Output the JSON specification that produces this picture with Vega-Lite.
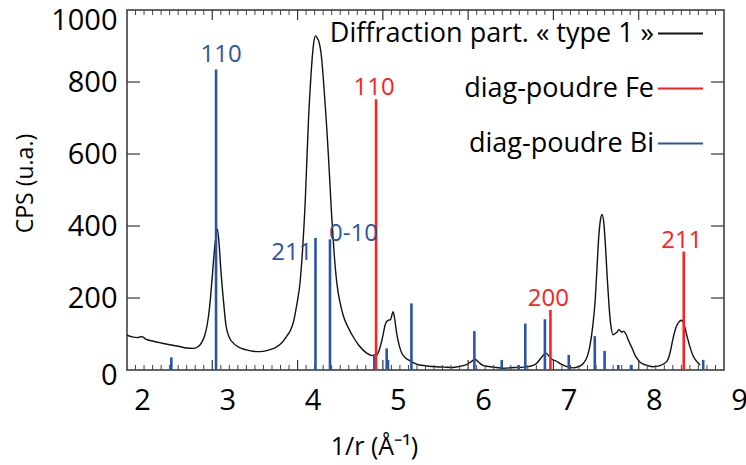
{
  "$schema": "https://vega.github.io/schema/vega-lite/v6.json",
  "width": 597,
  "height": 360,
  "autosize": "none",
  "padding": {"left": 127, "top": 10, "right": 22, "bottom": 95},
  "background": "white",
  "config": {
    "view": {"stroke": "#333333", "strokeWidth": 1.5},
    "axis": {"domain": false, "grid": false, "ticks": false, "labelFont": "Open Sans", "titleFont": "Open Sans", "labelColor": "#000000", "titleColor": "#000000", "titleFontWeight": "normal"},
    "text": {"font": "Open Sans"}
  },
  "datasets": {
    "curve": [
      {"x": 2.00, "y": 97}, {"x": 2.06, "y": 92}, {"x": 2.12, "y": 90}, {"x": 2.17, "y": 93}, {"x": 2.22, "y": 86},
      {"x": 2.31, "y": 80}, {"x": 2.40, "y": 75}, {"x": 2.50, "y": 70}, {"x": 2.60, "y": 66}, {"x": 2.70, "y": 61},
      {"x": 2.78, "y": 60}, {"x": 2.84, "y": 66}, {"x": 2.88, "y": 78}, {"x": 2.91, "y": 95}, {"x": 2.94, "y": 125},
      {"x": 2.97, "y": 178}, {"x": 3.00, "y": 260}, {"x": 3.03, "y": 345}, {"x": 3.06, "y": 392}, {"x": 3.08, "y": 350},
      {"x": 3.10, "y": 280}, {"x": 3.13, "y": 195}, {"x": 3.16, "y": 125}, {"x": 3.20, "y": 90}, {"x": 3.25, "y": 74},
      {"x": 3.32, "y": 62}, {"x": 3.40, "y": 56}, {"x": 3.48, "y": 52}, {"x": 3.56, "y": 51}, {"x": 3.64, "y": 54},
      {"x": 3.72, "y": 60}, {"x": 3.80, "y": 72}, {"x": 3.87, "y": 93}, {"x": 3.92, "y": 112}, {"x": 3.95, "y": 132},
      {"x": 3.99, "y": 180}, {"x": 4.03, "y": 245}, {"x": 4.06, "y": 340}, {"x": 4.09, "y": 470}, {"x": 4.11, "y": 590},
      {"x": 4.13, "y": 705}, {"x": 4.15, "y": 790}, {"x": 4.17, "y": 862}, {"x": 4.19, "y": 910}, {"x": 4.21, "y": 928},
      {"x": 4.23, "y": 922}, {"x": 4.25, "y": 912}, {"x": 4.28, "y": 870}, {"x": 4.30, "y": 815}, {"x": 4.32, "y": 750},
      {"x": 4.34, "y": 680}, {"x": 4.36, "y": 602}, {"x": 4.38, "y": 515}, {"x": 4.40, "y": 428}, {"x": 4.43, "y": 320},
      {"x": 4.46, "y": 242}, {"x": 4.50, "y": 185}, {"x": 4.54, "y": 148}, {"x": 4.60, "y": 115}, {"x": 4.65, "y": 93},
      {"x": 4.72, "y": 68}, {"x": 4.81, "y": 47}, {"x": 4.88, "y": 40}, {"x": 4.93, "y": 42}, {"x": 4.97, "y": 65},
      {"x": 5.00, "y": 95}, {"x": 5.03, "y": 128}, {"x": 5.06, "y": 138}, {"x": 5.09, "y": 140}, {"x": 5.12, "y": 162},
      {"x": 5.14, "y": 140}, {"x": 5.16, "y": 105}, {"x": 5.19, "y": 70}, {"x": 5.22, "y": 48}, {"x": 5.26, "y": 35},
      {"x": 5.30, "y": 28}, {"x": 5.36, "y": 20}, {"x": 5.43, "y": 14}, {"x": 5.50, "y": 12}, {"x": 5.63, "y": 9},
      {"x": 5.72, "y": 8}, {"x": 5.82, "y": 7}, {"x": 5.90, "y": 10}, {"x": 5.98, "y": 15}, {"x": 6.03, "y": 22},
      {"x": 6.08, "y": 30}, {"x": 6.13, "y": 20}, {"x": 6.18, "y": 12}, {"x": 6.30, "y": 8}, {"x": 6.41, "y": 5},
      {"x": 6.55, "y": 7}, {"x": 6.65, "y": 8}, {"x": 6.72, "y": 10}, {"x": 6.80, "y": 18}, {"x": 6.86, "y": 35},
      {"x": 6.91, "y": 47}, {"x": 6.95, "y": 38}, {"x": 6.98, "y": 30}, {"x": 7.03, "y": 25}, {"x": 7.08, "y": 18},
      {"x": 7.15, "y": 10}, {"x": 7.23, "y": 6}, {"x": 7.30, "y": 10}, {"x": 7.35, "y": 18}, {"x": 7.40, "y": 40},
      {"x": 7.43, "y": 70}, {"x": 7.46, "y": 120}, {"x": 7.49, "y": 195}, {"x": 7.51, "y": 280}, {"x": 7.53, "y": 365},
      {"x": 7.55, "y": 415}, {"x": 7.57, "y": 432}, {"x": 7.59, "y": 410}, {"x": 7.61, "y": 345}, {"x": 7.63, "y": 260},
      {"x": 7.65, "y": 185}, {"x": 7.67, "y": 130}, {"x": 7.70, "y": 98}, {"x": 7.74, "y": 104}, {"x": 7.77, "y": 112},
      {"x": 7.80, "y": 105}, {"x": 7.82, "y": 108}, {"x": 7.85, "y": 100}, {"x": 7.88, "y": 82}, {"x": 7.92, "y": 62},
      {"x": 7.96, "y": 40}, {"x": 8.01, "y": 23}, {"x": 8.08, "y": 14}, {"x": 8.17, "y": 9}, {"x": 8.25, "y": 12},
      {"x": 8.33, "y": 24}, {"x": 8.37, "y": 50}, {"x": 8.40, "y": 85}, {"x": 8.44, "y": 120}, {"x": 8.47, "y": 133},
      {"x": 8.50, "y": 138}, {"x": 8.53, "y": 128}, {"x": 8.56, "y": 100}, {"x": 8.60, "y": 65}, {"x": 8.64, "y": 38},
      {"x": 8.68, "y": 24}, {"x": 8.72, "y": 14}
    ],
    "bi": [
      {"x": 2.52, "h": 35, "label": ""},
      {"x": 3.044, "h": 835, "label": "110"},
      {"x": 4.21, "h": 367, "label": "211"},
      {"x": 4.38, "h": 363, "label": "0-10"},
      {"x": 4.90, "h": 44, "label": ""},
      {"x": 5.045, "h": 60, "label": ""},
      {"x": 5.06, "h": 28, "label": ""},
      {"x": 5.335, "h": 185, "label": ""},
      {"x": 6.073, "h": 108, "label": ""},
      {"x": 6.394, "h": 28, "label": ""},
      {"x": 6.59, "h": 14, "label": ""},
      {"x": 6.67, "h": 129, "label": ""},
      {"x": 6.90, "h": 141, "label": ""},
      {"x": 7.18, "h": 42, "label": ""},
      {"x": 7.485, "h": 94, "label": ""},
      {"x": 7.60, "h": 53, "label": ""},
      {"x": 7.76, "h": 14, "label": ""},
      {"x": 7.915, "h": 14, "label": ""},
      {"x": 8.756, "h": 28, "label": ""}
    ],
    "fe": [
      {"x": 4.92, "h": 752, "label": "110"},
      {"x": 6.965, "h": 167, "label": "200"},
      {"x": 8.528, "h": 329, "label": "211"}
    ],
    "xmajor": [{"v": 3}, {"v": 4}, {"v": 5}, {"v": 6}, {"v": 7}, {"v": 8}],
    "xminor": [
      {"v": 2.1}, {"v": 2.2}, {"v": 2.3}, {"v": 2.4}, {"v": 2.5}, {"v": 2.6}, {"v": 2.7}, {"v": 2.8}, {"v": 2.9},
      {"v": 3.1}, {"v": 3.2}, {"v": 3.3}, {"v": 3.4}, {"v": 3.5}, {"v": 3.6}, {"v": 3.7}, {"v": 3.8}, {"v": 3.9},
      {"v": 4.1}, {"v": 4.2}, {"v": 4.3}, {"v": 4.4}, {"v": 4.5}, {"v": 4.6}, {"v": 4.7}, {"v": 4.8}, {"v": 4.9},
      {"v": 5.1}, {"v": 5.2}, {"v": 5.3}, {"v": 5.4}, {"v": 5.5}, {"v": 5.6}, {"v": 5.7}, {"v": 5.8}, {"v": 5.9},
      {"v": 6.1}, {"v": 6.2}, {"v": 6.3}, {"v": 6.4}, {"v": 6.5}, {"v": 6.6}, {"v": 6.7}, {"v": 6.8}, {"v": 6.9},
      {"v": 7.1}, {"v": 7.2}, {"v": 7.3}, {"v": 7.4}, {"v": 7.5}, {"v": 7.6}, {"v": 7.7}, {"v": 7.8}, {"v": 7.9},
      {"v": 8.1}, {"v": 8.2}, {"v": 8.3}, {"v": 8.4}, {"v": 8.5}, {"v": 8.6}, {"v": 8.7}, {"v": 8.8}, {"v": 8.9}
    ],
    "ymajor": [{"v": 200}, {"v": 400}, {"v": 600}, {"v": 800}]
  },
  "layer": [
    {
      "data": {"name": "curve"},
      "mark": {"type": "line", "strokeWidth": 1.4, "interpolate": "monotone"},
      "encoding": {
        "x": {"field": "x", "type": "quantitative", "scale": {"domain": [2, 9], "nice": false, "zero": false},
          "axis": {"orient": "bottom", "values": [2, 3, 4, 5, 6, 7, 8, 9], "ticks": false, "format": "d",
            "labelOffset": 15, "labelPadding": 16, "labelFontSize": 29, "labelFlush": false, "labelOverlap": false,
            "title": "1/r (Å⁻¹)", "titleFontSize": 25, "titleX": 247, "titleY": 76, "titleBaseline": "middle", "titleAlign": "center"}},
        "y": {"field": "y", "type": "quantitative", "scale": {"domain": [0, 1000], "nice": false},
          "axis": {"orient": "left", "values": [0, 200, 400, 600, 800, 1000], "format": "d", "ticks": false, "labelPadding": 10, "labelFontSize": 29, "labelFlush": false, "labelOverlap": false,
            "labelOffset": {"condition": [{"test": "datum.value == 1000", "value": 10}, {"test": "datum.value == 0", "value": 5}], "value": 0},
            "title": "CPS (u.a.)", "titleFontSize": 23, "titleX": -102, "titleY": 173, "titleBaseline": "middle", "titleAlign": "center"}},
        "color": {"datum": "Diffraction part. « type 1 »", "type": "nominal",
          "scale": {"domain": ["Diffraction part. « type 1 »", "diag-poudre Fe", "diag-poudre Bi"], "range": ["#111111", "#FF2020", "#2B54A3"]},
          "legend": {"orient": "none", "legendX": 530, "legendY": 0, "title": null, "padding": 0, "symbolType": "stroke", "symbolSize": 2025, "symbolStrokeWidth": 2,
            "labelAlign": "right", "labelOffset": -50, "labelFont": "Open Sans", "labelFontSize": 27, "labelColor": "#000000", "labelLimit": 0, "rowPadding": 18}}
      }
    },
    {
      "data": {"name": "xmajor"},
      "mark": {"type": "rule", "color": "#333333", "strokeWidth": 1.2},
      "encoding": {
        "x": {"field": "v", "type": "quantitative"},
        "y": {"datum": 0, "type": "quantitative"},
        "y2": {"datum": 28}
      }
    },
    {
      "data": {"name": "xmajor"},
      "mark": {"type": "rule", "color": "#333333", "strokeWidth": 1.2},
      "encoding": {
        "x": {"field": "v", "type": "quantitative"},
        "y": {"datum": 1000, "type": "quantitative"},
        "y2": {"datum": 972}
      }
    },
    {
      "data": {"name": "xminor"},
      "mark": {"type": "rule", "color": "#444444", "strokeWidth": 1},
      "encoding": {
        "x": {"field": "v", "type": "quantitative"},
        "y": {"datum": 0, "type": "quantitative"},
        "y2": {"datum": 14}
      }
    },
    {
      "data": {"name": "xminor"},
      "mark": {"type": "rule", "color": "#444444", "strokeWidth": 1},
      "encoding": {
        "x": {"field": "v", "type": "quantitative"},
        "y": {"datum": 1000, "type": "quantitative"},
        "y2": {"datum": 986}
      }
    },
    {
      "data": {"name": "ymajor"},
      "mark": {"type": "rule", "color": "#333333", "strokeWidth": 1.2},
      "encoding": {
        "y": {"field": "v", "type": "quantitative"},
        "x": {"datum": 2, "type": "quantitative"},
        "x2": {"datum": 2.152}
      }
    },
    {
      "data": {"name": "ymajor"},
      "mark": {"type": "rule", "color": "#333333", "strokeWidth": 1.2},
      "encoding": {
        "y": {"field": "v", "type": "quantitative"},
        "x": {"datum": 9, "type": "quantitative"},
        "x2": {"datum": 8.848}
      }
    },
    {
      "data": {"name": "bi"},
      "mark": {"type": "rule", "strokeWidth": 2.6},
      "encoding": {
        "x": {"field": "x", "type": "quantitative"},
        "y": {"field": "h", "type": "quantitative"},
        "y2": {"datum": 0},
        "color": {"datum": "diag-poudre Bi", "type": "nominal"}
      }
    },
    {
      "data": {"name": "fe"},
      "mark": {"type": "rule", "strokeWidth": 2.6},
      "encoding": {
        "x": {"field": "x", "type": "quantitative"},
        "y": {"field": "h", "type": "quantitative"},
        "y2": {"datum": 0},
        "color": {"datum": "diag-poudre Fe", "type": "nominal"}
      }
    },
    {
      "data": {"name": "fe"},
      "mark": {"type": "text", "color": "#FF2020", "fontSize": 24, "align": "center", "baseline": "alphabetic", "dx": -2, "dy": -4},
      "encoding": {
        "x": {"field": "x", "type": "quantitative"},
        "y": {"field": "h", "type": "quantitative"},
        "text": {"field": "label"}
      }
    },
    {
      "data": {"name": "bi"},
      "transform": [{"filter": "datum.label == '110'"}],
      "mark": {"type": "text", "color": "#2B54A3", "fontSize": 24, "align": "center", "baseline": "alphabetic", "dx": 5, "dy": -7},
      "encoding": {
        "x": {"field": "x", "type": "quantitative"},
        "y": {"field": "h", "type": "quantitative"},
        "text": {"field": "label"}
      }
    },
    {
      "data": {"name": "bi"},
      "transform": [{"filter": "datum.label == '211'"}],
      "mark": {"type": "text", "color": "#2B54A3", "fontSize": 24, "align": "right", "baseline": "alphabetic", "dx": -3, "dy": 22},
      "encoding": {
        "x": {"field": "x", "type": "quantitative"},
        "y": {"field": "h", "type": "quantitative"},
        "text": {"field": "label"}
      }
    },
    {
      "data": {"name": "bi"},
      "transform": [{"filter": "datum.label == '0-10'"}],
      "mark": {"type": "text", "color": "#2B54A3", "fontSize": 24, "align": "left", "baseline": "alphabetic", "dx": -1, "dy": 2},
      "encoding": {
        "x": {"field": "x", "type": "quantitative"},
        "y": {"field": "h", "type": "quantitative"},
        "text": {"field": "label"}
      }
    }
  ]
}
